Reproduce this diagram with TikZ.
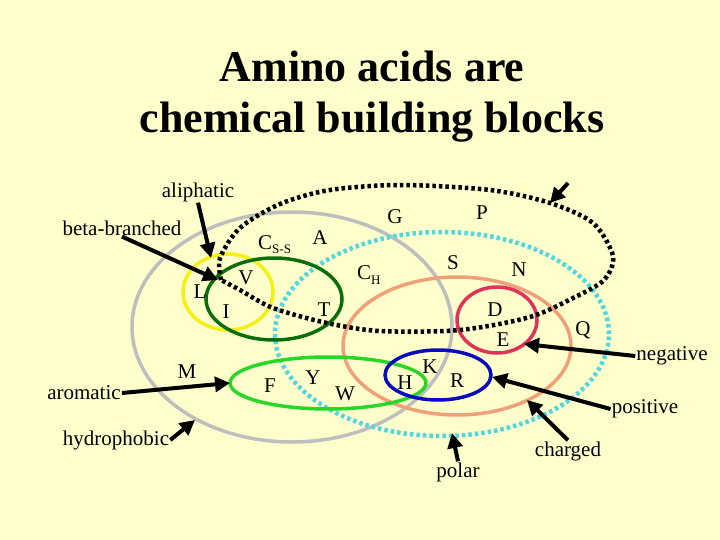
\documentclass[tikz,border=0pt]{standalone}
\usepackage{fontspec}
\setmainfont{Liberation Serif}
\usetikzlibrary{arrows.meta}

\definecolor{paper}{RGB}{255,255,204}
\definecolor{hydrocol}{RGB}{190,190,190}
\definecolor{polarcol}{RGB}{80,215,225}
\definecolor{chargecol}{RGB}{240,160,120}
\definecolor{alicol}{RGB}{245,240,20}
\definecolor{betacol}{RGB}{10,110,10}
\definecolor{aromcol}{RGB}{40,215,40}
\definecolor{poscol}{RGB}{10,10,190}
\definecolor{negcol}{RGB}{225,50,90}

\begin{document}
\begin{tikzpicture}[
    x=1pt, y=-1pt,
    lbl/.style={inner sep=1pt, font=\fontsize{21}{24}\selectfont},
    aa/.style={inner sep=0pt, font=\fontsize{21}{24}\selectfont},
    arr/.style={line width=4pt, -{Triangle[length=15pt,width=15pt]}},
    ring/.style={line width=3.5pt},
    dotline/.style={line width=4.5pt, dash pattern=on 3.5pt off 3pt},
]
\fill[paper] (0,0) rectangle (720,540);

% title
\node [inner sep=0pt, align=center, font=\fontsize{44}{51}\selectfont\bfseries] (title) at (372,97)
    {Amino acids are\\chemical building blocks};

% sets
\draw[ring, hydrocol] (292,327) ellipse [x radius=160pt, y radius=115pt];
\draw[dotline, polarcol] (442,334) ellipse [x radius=167pt, y radius=102pt];
\draw[ring, chargecol] (457,346) ellipse [x radius=114pt, y radius=69pt];
\draw[ring, alicol] (228,292) ellipse [x radius=45pt, y radius=38pt];
\draw[ring, betacol] (274,299) ellipse [x radius=68pt, y radius=41pt];
\draw[ring, aromcol] (328,383) ellipse [x radius=98pt, y radius=26pt];
\draw[ring, poscol] (438,375) ellipse [x radius=53pt, y radius=25pt];
\draw[ring, negcol] (497,320) ellipse [x radius=40pt, y radius=33pt];
\draw[dotline, black] plot [smooth] coordinates {
    (221,280) (220,258) (240,228) (280,204) (330,190) (400,185) (490,190)
    (550,203) (593,223) (613,256) (604,280) (575,297) (530,317) (460,330)
    (380,331) (327,323) (273,308) (240,290) (221,280)};

% amino acids
\node [aa, anchor=base west] (Css) at (258,249) {C\raisebox{-5pt}{\fontsize{13}{13}\selectfont S-S}};
\node [aa, anchor=base west] (CH) at (357,279) {C\raisebox{-5pt}{\fontsize{13}{13}\selectfont H}};
\node [aa] (G) at (395,217) {G};
\node [aa] (P) at (482,213) {P};
\node [aa] (A) at (320,238) {A};
\node [aa] (S) at (453,263) {S};
\node [aa] (N) at (519,270) {N};
\node [aa] (V) at (246,278) {V};
\node [aa] (L) at (200,292) {L};
\node [aa] (I) at (226,312) {I};
\node [aa] (T) at (324,310) {T};
\node [aa] (D) at (495,310) {D};
\node [aa] (E) at (503,340) {E};
\node [aa] (Q) at (583,330) {Q};
\node [aa] (M) at (187,372) {M};
\node [aa] (F) at (270,386) {F};
\node [aa] (Y) at (313,378) {Y};
\node [aa] (W) at (345,394) {W};
\node [aa] (H) at (405,383) {H};
\node [aa] (K) at (430,367) {K};
\node [aa] (R) at (457,381) {R};

% property labels
\node [lbl] (aliphatic) at (198,192) {aliphatic};
\node [lbl] (beta) at (122,228) {beta-branched};
\node [lbl] (aromatic) at (84,393) {aromatic};
\node [lbl] (hydro) at (116,440) {hydrophobic};
\node [lbl] (negative) at (672,356) {negative};
\node [lbl] (positive) at (645,409) {positive};
\node [lbl] (charged) at (568,451) {charged};
\node [lbl] (polar) at (458,472) {polar};

% arrow tips
\coordinate (aliphaticTip) at (211,258);
\coordinate (betaTip) at (218,280);
\coordinate (aromaticTip) at (230,383);
\coordinate (hydroTip) at (195,420);
\coordinate (negativeTip) at (524,344);
\coordinate (positiveTip) at (492,377);
\coordinate (chargedTip) at (527,400);
\coordinate (polarTip) at (452,433);
\coordinate (loopStart) at (568,183);
\coordinate (loopTip) at (550,203);

\draw[arr] (aliphatic.south) -- (aliphaticTip);
\draw[arr] (beta.south) -- (betaTip);
\draw[arr] (aromatic.east) -- (aromaticTip);
\draw[arr] (hydro.east) -- (hydroTip);
\draw[arr] (negative.west) -- (negativeTip);
\draw[arr] (positive.west) -- (positiveTip);
\draw[arr] (charged.north) -- (chargedTip);
\draw[arr] (polar.north) -- (polarTip);
\draw[arr] (loopStart) -- (loopTip);

\end{tikzpicture}
\end{document}
